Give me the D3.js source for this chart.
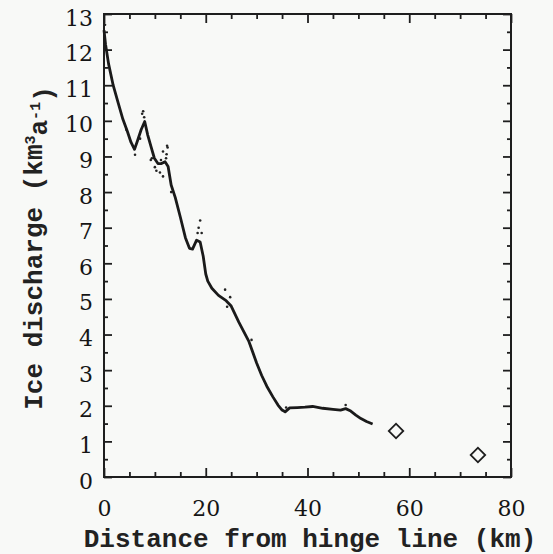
<!DOCTYPE html>
<html>
<head>
<meta charset="utf-8">
<script src="https://cdn.jsdelivr.net/npm/d3@7"></script>
<style>
  body { margin: 0; background: #f8f9f7; }
  .axis path { display: none; }
  .axis line { stroke: #1e1e1e; stroke-width: 1.8; }
  .aText { font-family: "Liberation Mono", monospace; font-weight: bold; fill: #222; }
</style>
</head>
<body>
<div id="chart"></div>
<script>
// Set up chart
var svgWidth = 553;
var svgHeight = 554;
var margin = {top: 14, right: 42, bottom: 77, left: 104};
var width = svgWidth - margin.left - margin.right;
var height = svgHeight - margin.top - margin.bottom;

// data (km, km^3 a^-1)
var lineKm = [0, 0.3, 0.9, 1.8, 2.8, 3.7, 4.6, 5.3, 6.0, 6.6, 7.3, 8.0, 8.6, 9.2, 9.9, 10.6, 11.3, 12.0, 12.6,
  13.2, 14.0, 15.0, 16.0, 16.8, 17.4, 18.2, 18.9, 19.5, 20.0, 20.4, 21.2, 22.5, 24.0, 25.0, 26.5, 28.5,
  30.0, 31.0, 32.0, 33.2, 34.2, 35.0, 35.6, 36.5, 38.0, 39.5, 41.0, 43.0, 45.0, 46.5, 47.5, 48.5, 49.5,
  50.5, 51.6, 52.8];
var lineQ = [12.55, 12.15, 11.6, 11.0, 10.5, 10.05, 9.7, 9.4, 9.2, 9.45, 9.75, 9.98, 9.6, 9.3, 8.95, 8.8, 8.8, 8.85, 8.72,
  8.2, 7.85, 7.3, 6.72, 6.42, 6.4, 6.65, 6.6, 6.2, 5.7, 5.5, 5.3, 5.1, 4.95, 4.8, 4.35, 3.8,
  3.2, 2.85, 2.55, 2.25, 2.02, 1.88, 1.83, 1.94, 1.95, 1.96, 1.98, 1.93, 1.9, 1.88, 1.92, 1.85, 1.74,
  1.64, 1.56, 1.49];

// scattered measurements around the line
var dotKm = [7.7, 7.9, 7.5, 7.1, 9.4, 11.6, 12.3, 12.5, 11.0, 11.6, 10.0, 12.2, 12.4, 9.2, 10.3, 11.2,
  18.9, 18.6, 19.2, 18.4, 13.2, 6.1, 0.2, 4.4, 23.8, 24.8, 24.2, 29.0, 35.8, 47.5];
var dotQ = [10.27, 10.1, 10.2, 9.5, 8.95, 9.14, 9.06, 9.25, 8.55, 8.44, 8.7, 8.95, 9.3, 8.9, 8.6, 8.9,
  7.2, 7.0, 6.85, 6.85, 8.0, 9.05, 12.7, 9.75, 5.26, 5.05, 4.78, 3.85, 1.95, 2.02];

// separate estimates beyond the line
var diamondKm = [57.4, 73.5];
var diamondQ = [1.29, 0.62];

var xTicks = [0, 20, 40, 60, 80];
var yTicks = [0, 1, 2, 3, 4, 5, 6, 7, 8, 9, 10, 11, 12, 13];

var svg = d3.select("#chart")
  .append("svg")
  .attr("width", svgWidth)
  .attr("height", svgHeight)
  .style("background", "#f8f9f7");

var chartGroup = svg.append("g")
  .attr("transform", `translate(${margin.left}, ${margin.top})`);

var xScale = d3.scaleLinear().domain([0, 80]).range([0, width]);
var yScale = d3.scaleLinear().domain([0, 13]).range([height, 0]);

var xMinor = d3.range(0, 81, 5).filter(d => d % 20 !== 0);
var yMinor = d3.range(0.5, 13, 1);

// frame
chartGroup.append("rect")
  .attr("width", width)
  .attr("height", height)
  .attr("fill", "none")
  .attr("stroke", "#1e1e1e")
  .attr("stroke-width", 2);

// left axis with labels
chartGroup.append("g")
  .attr("class", "axis")
  .call(d3.axisLeft(yScale).tickValues(yTicks).tickSizeInner(-8).tickPadding(11).tickFormat(d3.format("d")))
  .selectAll("text")
  .style("font-family", "'DejaVu Serif', 'Liberation Serif', serif")
  .style("font-size", "22px")
  .style("fill", "#151515")
  .attr("dy", "0.5em");
chartGroup.append("g")
  .attr("class", "axis")
  .call(d3.axisLeft(yScale).tickValues(yMinor).tickSize(-4).tickFormat(""));

// right axis ticks
chartGroup.append("g")
  .attr("class", "axis")
  .attr("transform", `translate(${width}, 0)`)
  .call(d3.axisRight(yScale).tickValues(yTicks).tickSize(-8).tickFormat(""));
chartGroup.append("g")
  .attr("class", "axis")
  .attr("transform", `translate(${width}, 0)`)
  .call(d3.axisRight(yScale).tickValues(yMinor).tickSize(-4).tickFormat(""));

// bottom axis with labels
chartGroup.append("g")
  .attr("class", "axis")
  .attr("transform", `translate(0, ${height})`)
  .call(d3.axisBottom(xScale).tickValues(xTicks).tickSizeInner(-9).tickPadding(23).tickFormat(d3.format("d")))
  .selectAll("text")
  .style("font-family", "'DejaVu Serif', 'Liberation Serif', serif")
  .style("font-size", "22px")
  .style("fill", "#151515");
chartGroup.append("g")
  .attr("class", "axis")
  .attr("transform", `translate(0, ${height})`)
  .call(d3.axisBottom(xScale).tickValues(xMinor).tickSize(-5).tickFormat(""));

// top axis ticks
chartGroup.append("g")
  .attr("class", "axis")
  .call(d3.axisTop(xScale).tickValues(xTicks).tickSize(-9).tickFormat(""));
chartGroup.append("g")
  .attr("class", "axis")
  .call(d3.axisTop(xScale).tickValues(xMinor).tickSize(-5).tickFormat(""));

// scattered dots
chartGroup.selectAll(".dot")
  .data(dotKm.map((d, i) => [d, dotQ[i]]))
  .enter()
  .append("circle")
  .attr("class", "dot")
  .attr("cx", d => xScale(d[0]))
  .attr("cy", d => yScale(d[1]))
  .attr("r", 1.3)
  .attr("fill", "#222");

// main line
var line = d3.line()
  .x(d => xScale(d[0]))
  .y(d => yScale(d[1]));
chartGroup.append("path")
  .datum(lineKm.map((d, i) => [d, lineQ[i]]))
  .attr("d", line)
  .attr("fill", "none")
  .attr("stroke", "#1a1a1a")
  .attr("stroke-width", 2.8)
  .attr("stroke-linejoin", "round");

// diamonds
chartGroup.selectAll(".diamond")
  .data(diamondKm.map((d, i) => [d, diamondQ[i]]))
  .enter()
  .append("path")
  .attr("class", "diamond")
  .attr("d", d3.symbol().type(d3.symbolSquare).size(105))
  .attr("transform", d => `translate(${xScale(d[0])}, ${yScale(d[1])}) rotate(45)`)
  .attr("fill", "none")
  .attr("stroke", "#1e1e1e")
  .attr("stroke-width", 1.8);

// x-axis label
chartGroup.append("text")
  .attr("class", "aText")
  .attr("x", 310 - margin.left)
  .attr("y", 547 - margin.top)
  .attr("text-anchor", "middle")
  .style("font-size", "26px")
  .text("Distance from hinge line (km)");

// y-axis label
var yLabel = chartGroup.append("text")
  .attr("class", "aText")
  .attr("transform", `translate(${42 - margin.left}, ${248 - margin.top}) rotate(-90)`)
  .attr("text-anchor", "middle")
  .style("font-size", "26px");
yLabel.append("tspan").text("Ice discharge (km");
yLabel.append("tspan").attr("dy", "-0.45em").style("font-size", "15px").text("3");
yLabel.append("tspan").attr("dy", "0.45em").text("a");
yLabel.append("tspan").attr("dy", "-0.45em").style("font-size", "15px").text("-1");
yLabel.append("tspan").attr("dy", "0.45em").text(")");
</script>
</body>
</html>
